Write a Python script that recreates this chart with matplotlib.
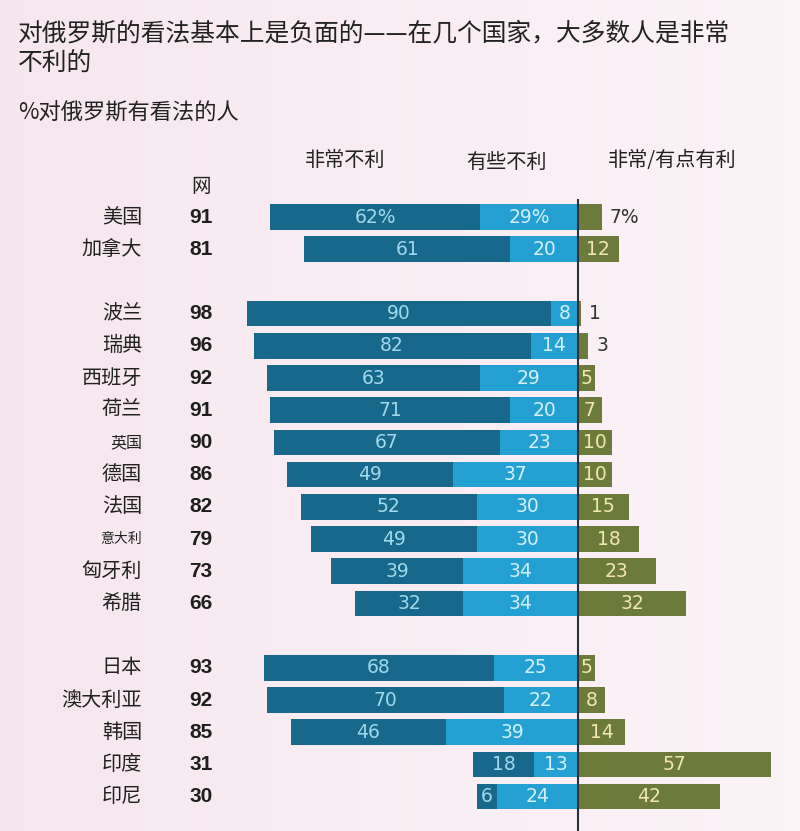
import matplotlib.pyplot as plt
import numpy as np

plt.rcParams['font.family'] = ['Noto Sans CJK SC', 'DejaVu Sans']

countries = ["美国", "加拿大",
             "波兰", "瑞典", "西班牙", "荷兰", "英国", "德国", "法国", "意大利", "匈牙利", "希腊",
             "日本", "澳大利亚", "韩国", "印度", "印尼"]
net_unfav = [91, 81, 98, 96, 92, 91, 90, 86, 82, 79, 73, 66, 93, 92, 85, 31, 30]
very_unfav = [62, 61, 90, 82, 63, 71, 67, 49, 52, 49, 39, 32, 68, 70, 46, 18, 6]
some_unfav = [29, 20, 8, 14, 29, 20, 23, 37, 30, 30, 34, 34, 25, 22, 39, 13, 24]
favorable = [7, 12, 1, 3, 5, 7, 10, 10, 15, 18, 23, 32, 5, 8, 14, 57, 42]
group_sizes = [2, 10, 5]
name_sizes = {"英国": 11.5, "意大利": 10}

DARK = "#17688b"
LIGHT = "#25a0d3"
OLIVE = "#6c7b3b"
BG = "#f9eef3"
NUM_FONT = "DejaVu Sans"

# row positions: one blank row between groups
rows = []
pos = 0
for g in group_sizes:
    rows.extend(range(pos, pos + g))
    pos += g + 1
rows = np.array(rows)

fig = plt.figure(figsize=(8, 8.31), dpi=100, facecolor=BG)

# soft pink-to-white background
bg_ax = fig.add_axes([0, 0, 1, 1], zorder=-1)
grad = np.linspace(0, 1, 256)[None, :] * 0.7 + np.zeros((256, 1))
left = np.array([0.968, 0.905, 0.937])
right = np.array([0.995, 0.975, 0.982])
img = left[None, None, :] * (1 - grad[..., None]) + right[None, None, :] * grad[..., None]
bg_ax.imshow(img, aspect="auto", extent=[0, 1, 0, 1])
bg_ax.axis("off")

ax = fig.add_axes([0, 0, 1, 1])
ax.patch.set_alpha(0)
px = 3.38  # pixels per percent
zero_px = 578
row_px = 32.2
top_px = 217
ax.set_xlim(-zero_px / px, (800 - zero_px) / px)
ax.set_ylim((831 - top_px) / row_px, -top_px / row_px)
ax.axis("off")

vu = np.array(very_unfav)
su = np.array(some_unfav)
fa = np.array(favorable)
h = 0.8
ax.barh(rows, -su, height=h, color=LIGHT, zorder=2)
ax.barh(rows, -vu, left=-su, height=h, color=DARK, zorder=2)
ax.barh(rows, fa, height=h, color=OLIVE, zorder=2)

lab_kw = dict(ha="center", va="center", fontsize=13.5, family=NUM_FONT, zorder=3)
for i, r in enumerate(rows):
    sfx = "%" if i == 0 else ""
    ax.text(-su[i] - vu[i] / 2, r, f"{vu[i]}{sfx}", color="#a2d8eb", **lab_kw)
    ax.text(-su[i] / 2, r, f"{su[i]}{sfx}", color="#d2f0fa", **lab_kw)
    if fa[i] >= 5 and i != 0:
        ax.text(fa[i] / 2, r, f"{fa[i]}", color="#f2e6b2", **lab_kw)
    else:
        ax.text(fa[i] + 2.4, r, f"{fa[i]}{sfx}", color="#333333",
                ha="left", va="center", fontsize=13.5, family=NUM_FONT, zorder=3)
    ax.text((142 - zero_px) / px, r, countries[i], ha="right", va="center",
            fontsize=name_sizes.get(countries[i], 14.5), color="#222222")
    ax.text((201 - zero_px) / px, r, str(net_unfav[i]), ha="center", va="center",
            fontsize=15, fontweight="bold", family="Liberation Sans", color="#1e1e1e")

ax.plot([0, 0], [(200 - top_px) / row_px, (831 - top_px) / row_px],
        color="#28343c", lw=1.5, zorder=4)

# headers
hy = (160 - top_px) / row_px
ax.text((345 - zero_px) / px, hy, "非常不利", ha="center", va="center", fontsize=14.5, color="#222222")
ax.text((506 - zero_px) / px, hy + 0.07, "有些不利", ha="center", va="center", fontsize=14.5, color="#222222")
ax.text((672 - zero_px) / px, hy, "非常/有点有利", ha="center", va="center", fontsize=14.5, color="#222222")
ax.text((201 - zero_px) / px, (186 - top_px) / row_px, "网", ha="center", va="center",
        fontsize=14, color="#222222")

fig.text(18 / 800, 1 - 33 / 831, "对俄罗斯的看法基本上是负面的——在几个国家，大多数人是非常",
         ha="left", va="center", fontsize=17.8, color="#222222")
fig.text(18 / 800, 1 - 64 / 831, "不利的", ha="left", va="center", fontsize=17.8, color="#222222")
fig.text(18 / 800, 1 - 113 / 831, "%对俄罗斯有看法的人", ha="left", va="center",
         fontsize=16, color="#222222")

fig.savefig("out.png", dpi=100, facecolor=BG)
